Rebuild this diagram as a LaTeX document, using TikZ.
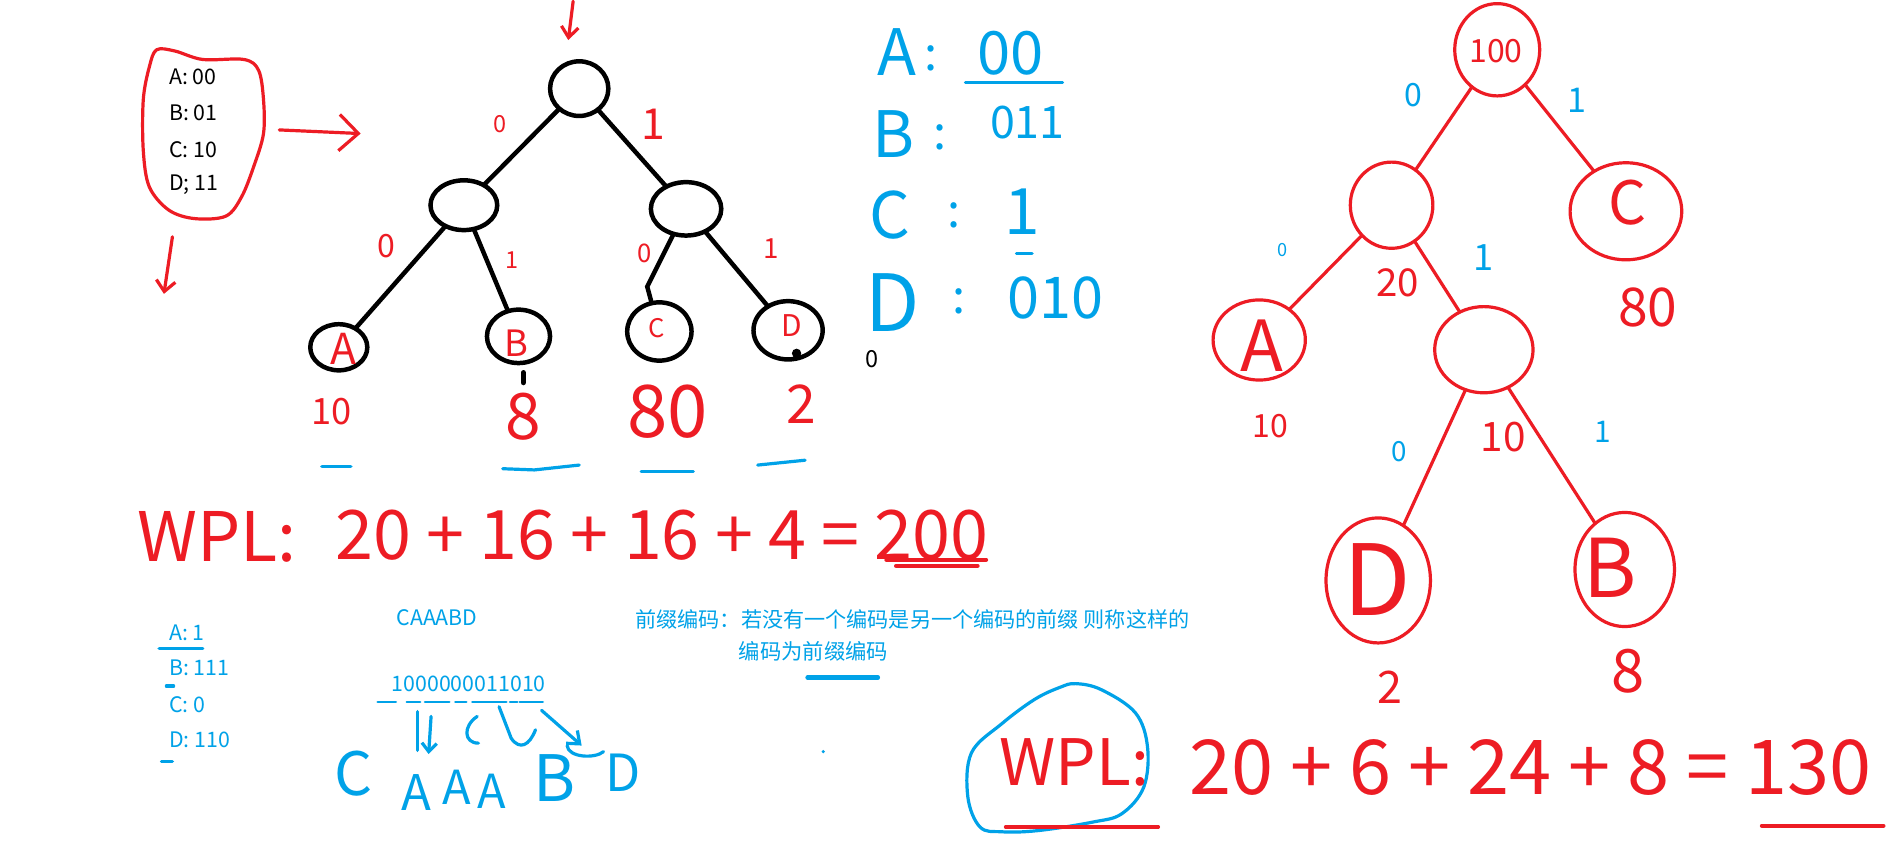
\documentclass[tikz,border=0pt]{standalone}
\usepackage{fontspec}
\setmainfont{Noto Sans CJK SC}
\usetikzlibrary{arrows.meta,shapes.geometric,calc}
\definecolor{hRed}{HTML}{ED1C24}
\definecolor{hBlue}{HTML}{00A2E8}
\newcommand{\fsz}[1]{\fontsize{#1}{#1}\selectfont}
\tikzset{
	bnode/.style={draw, ellipse, line width=2.1pt, inner sep=0pt, outer sep=0pt},
	rnode/.style={draw=hRed, ellipse, line width=1.5pt, inner sep=0pt, outer sep=0pt},
	bedge/.style={-, line width=2.1pt},
	redge/.style={-, draw=hRed, line width=1.5pt, line cap=round},
	rstroke/.style={draw=hRed, line width=1.5pt, line cap=round, line join=round},
	bstroke/.style={draw=hBlue, line width=1.5pt, line cap=round, line join=round},
	rlab/.style={text=hRed, inner sep=0pt},
	blab/.style={text=hBlue, inner sep=0pt},
	code/.style={anchor=west, inner sep=0pt, font=\fsz{10}}
}

\begin{document}
\begin{tikzpicture}[x=0.02cm, y=-0.02cm]
	\fill[white] (0,0) rectangle (1568,695);
	\useasboundingbox (0,0) rectangle (1568,695);

	% fixed-length code
	\draw[rstroke] plot[smooth cycle, tension=0.55] coordinates {(129,41) (144,42) (167,49) (201,49) (213,58) (217,82) (217,110) (209,137) (199,162) (186,178) (160,180) (139,173) (123,154) (118,124) (118,82) (123,55)};
	\node[code] (fa) at (139,63) {A: 00};
	\node[code] (fb) at (139,93) {B: 01};
	\node[code] (fc) at (139,123) {C: 10};
	\node[code] (fd) at (139,152) {D; 11};
	\coordinate (ar1s) at (230,107);
	\coordinate (ar1e) at (297,110);
	\draw[rstroke, -{Straight Barb[length=9pt,width=17pt]}] (ar1s) -- (ar1e);
	\coordinate (ar2s) at (142,195);
	\coordinate (ar2e) at (135,242);
	\draw[rstroke, -{Straight Barb[length=5pt,width=9pt]}] (ar2s) -- (ar2e);
	\coordinate (ar3s) at (472,1);
	\coordinate (ar3e) at (468,33);
	\draw[rstroke, -{Straight Barb[length=5pt,width=8pt]}] (ar3s) -- (ar3e);

	% first tree
	\node[bnode, minimum width=0.96cm, minimum height=0.9cm] (root) at (477,73) {};
	\node[bnode, minimum width=1.1cm, minimum height=0.82cm] (n0) at (382,169) {};
	\node[bnode, minimum width=1.16cm, minimum height=0.88cm] (n1) at (565,172) {};
	\node[bnode, minimum width=0.94cm, minimum height=0.76cm] (lA) at (279,286) {};
	\node[bnode, minimum width=1.04cm, minimum height=0.88cm] (lB) at (427,277) {};
	\node[bnode, minimum width=1.06cm, minimum height=0.96cm] (lC) at (543,273) {};
	\node[bnode, minimum width=1.14cm, minimum height=0.96cm] (lD) at (649,272) {};
	\node[rlab, font=\fsz{20}] (tA) at (283,287) {A};
	\node[rlab, font=\fsz{17}] (tB) at (425,283) {B};
	\node[rlab, font=\fsz{12}] (tC) at (541,270) {C};
	\node[rlab, font=\fsz{14}] (tD) at (652,268) {D};
	\path (root) edge[bedge] (n0) edge[bedge] (n1);
	\path (n0) edge[bedge] (lA) edge[bedge] (lB);
	\coordinate (ck) at (533,236);
	\draw[bedge] (n1) -- (ck) -- (lC);
	\path (n1) edge[bedge] (lD);
	\node[rlab, font=\fsz{11}] (e1) at (412,102) {0};
	\node[rlab, font=\fsz{20}] (e2) at (538,102) {1};
	\node[rlab, font=\fsz{15}] (e3) at (318,203) {0};
	\node[rlab, font=\fsz{11}] (e4) at (422,214) {1};
	\node[rlab, font=\fsz{12}] (e5) at (531,209) {0};
	\node[rlab, font=\fsz{13}] (e6) at (635,205) {1};
	\draw[line width=2.6pt, line cap=round] (lB.south) ++(4,8) -- ++(0,8);
	\fill (656,291) circle (2.2pt);
	\node[font=\fsz{11}, inner sep=0pt] (z0) at (718,296) {0};

	% weights
	\node[rlab, font=\fsz{17}] (wA) at (273,339) {10};
	\node[rlab, font=\fsz{30}] (wB) at (431,343) {8};
	\node[rlab, font=\fsz{34}] (wC) at (550,339) {80};
	\node[rlab, font=\fsz{25}] (wD) at (660,333) {2};
	\draw[bstroke] (265,384) -- (289,384);
	\draw[bstroke] (414,386) -- (440,387) -- (477,383);
	\draw[bstroke] (528,388) -- (571,388);
	\draw[bstroke] (624,383) -- (663,379);

	% WPL of first tree
	\node[rlab, font=\fsz{32}, anchor=west] (wpl1) at (113,442) {WPL:};
	\node[rlab, font=\fsz{32}, anchor=west] (sum1) at (276,441) {20 + 16 + 16 + 4 = 200};
	\draw[rstroke, line width=2pt] (730,461) -- (812,461);
	\draw[rstroke, line width=2pt] (738,466) -- (805,466);

	% codes read off the tree
	\node[blab, font=\fsz{30}] (kA) at (739,43) {A};
	\node[blab, font=\fsz{22}] (cA) at (767,48) {:};
	\node[blab, font=\fsz{28}] (vA) at (832,44) {00};
	\draw[bstroke] (795,68) -- (875,68);
	\node[blab, font=\fsz{30}] (kB) at (736,110) {B};
	\node[blab, font=\fsz{22}] (cB) at (774,113) {:};
	\node[blab, font=\fsz{21}] (vB) at (846,101) {011};
	\node[blab, font=\fsz{30}] (kC) at (733,177) {C};
	\node[blab, font=\fsz{22}] (cC) at (786,177) {:};
	\node[blab, font=\fsz{30}] (vC) at (842,174) {1};
	\draw[bstroke] (837,209) -- (850,209);
	\node[blab, font=\fsz{37}] (kD) at (735,249) {D};
	\node[blab, font=\fsz{22}] (cD) at (790,248) {:};
	\node[blab, font=\fsz{27}] (vD) at (869,245) {010};

	% second code
	\node[code, text=hBlue] (qA) at (139,521) {A: 1};
	\node[code, text=hBlue] (qB) at (139,550) {B: 111};
	\node[code, text=hBlue] (qC) at (139,580) {C: 0};
	\node[code, text=hBlue] (qD) at (139,609) {D: 110};
	\draw[bstroke] (131,534) -- (167,534);
	\draw[bstroke] (137,565) -- (143,565);
	\draw[bstroke] (133,627) -- (142,627);
	\node[blab, font=\fsz{10}] (msg) at (360,509) {CAAABD};
	\node[blab, font=\fsz{10}] (bits) at (386,563) {1000000011010};
	\foreach \a/\b in {311/326,335/346,350/370,375/384,389/417,420/426,428/447}
		\draw[bstroke, line width=1.2pt] (\a,578) -- (\b,578);
	\draw[bstroke] (344,586) -- (344,618);
	\draw[bstroke, -{Straight Barb[length=4pt,width=7pt]}] (355,590) -- (353,621);
	\draw[bstroke] (393,590) .. controls (381,598) and (382,612) .. (394,612);
	\draw[bstroke] (411,582) -- (421,608) .. controls (428,618) and (436,614) .. (441,601);
	\draw[bstroke, -{Straight Barb[length=5pt,width=8pt]}] (446,585) -- (479,614);
	\draw[bstroke] (467,614) .. controls (468,624) and (490,625) .. (497,619);
	\node[blab, font=\fsz{28}] (hC) at (291,637) {C};
	\node[blab, font=\fsz{23}] (hA1) at (343,653) {A};
	\node[blab, font=\fsz{22}] (hA2) at (376,648) {A};
	\node[blab, font=\fsz{22}] (hA3) at (405,652) {A};
	\node[blab, font=\fsz{30}] (hB) at (457,641) {B};
	\node[blab, font=\fsz{24}] (hD) at (513,636) {D};

	% prefix code
	\node[blab, font=\fsz{9.9}, anchor=west] (def1) at (523,510) {前缀编码：若没有一个编码是另一个编码的前缀 则称这样的};
	\node[blab, font=\fsz{10}, anchor=west] (def2) at (608,536) {编码为前缀编码};
	\draw[bstroke, line width=2pt] (665,558) -- (723,558);
	\fill[hBlue] (678,619) circle (0.8pt);

	% huffman tree
	\node[rnode, minimum width=1.4cm, minimum height=1.52cm] (h) at (1233,41) {};
	\node[rlab, font=\fsz{15}] (hw) at (1232,42) {100};
	\node[rnode, minimum width=1.36cm, minimum height=1.42cm] (h0) at (1146,169) {};
	\node[rnode, minimum width=1.84cm, minimum height=1.6cm] (hc) at (1339,174) {};
	\node[rlab, font=\fsz{28}] (hcl) at (1340,167) {C};
	\node[rnode, minimum width=1.52cm, minimum height=1.32cm] (ha) at (1037,280) {};
	\node[rlab, font=\fsz{33}] (hal) at (1039,285) {A};
	\node[rnode, minimum width=1.62cm, minimum height=1.42cm] (h01) at (1222,288) {};
	\node[rnode, minimum width=1.72cm, minimum height=2.06cm] (hd) at (1135,478) {};
	\node[rlab, font=\fsz{46}] (hdl) at (1134,477) {D};
	\node[rnode, minimum width=1.64cm, minimum height=1.88cm] (hb) at (1338,469) {};
	\node[rlab, font=\fsz{38}] (hbl) at (1326,468) {B};
	\path (h) edge[redge] (h0) edge[redge] (hc);
	\path (h0) edge[redge] (ha) edge[redge] (h01);
	\path (h01) edge[redge] (hd) edge[redge] (hb);
	\node[blab, font=\fsz{15}] (g1) at (1164,78) {0};
	\node[blab, font=\fsz{16}] (g2) at (1299,83) {1};
	\node[blab, font=\fsz{8.5}] (g3) at (1056,206) {0};
	\node[blab, font=\fsz{17}] (g4) at (1222,212) {1};
	\node[blab, font=\fsz{13}] (g5) at (1152,372) {0};
	\node[blab, font=\fsz{14}] (g6) at (1320,356) {1};
	\node[rlab, font=\fsz{18}] (m20) at (1151,233) {20};
	\node[rlab, font=\fsz{25}] (m80) at (1357,253) {80};
	\node[rlab, font=\fsz{15}] (m10a) at (1046,351) {10};
	\node[rlab, font=\fsz{19}] (m10b) at (1238,360) {10};
	\node[rlab, font=\fsz{21}] (m2) at (1145,566) {2};
	\node[rlab, font=\fsz{28}] (m8) at (1341,553) {8};

	% WPL of huffman tree
	\draw[bstroke] plot[smooth cycle, tension=0.6] coordinates {(886,563) (907,568) (935,587) (945,615) (942,648) (924,670) (900,677) (855,684) (825,685) (807,681) (797,656) (800,620) (825,596) (852,576) (873,566)};
	\node[rlab, font=\fsz{30}, anchor=west] (wpl2) at (823,628) {WPL:};
	\draw[rstroke] (828,681) -- (954,681);
	\node[rlab, font=\fsz{35.5}, anchor=west] (sum2) at (979,632) {20 + 6 + 24 + 8 = 130};
	\draw[rstroke, line width=2pt] (1451,680) -- (1551,680);
\end{tikzpicture}
\end{document}
